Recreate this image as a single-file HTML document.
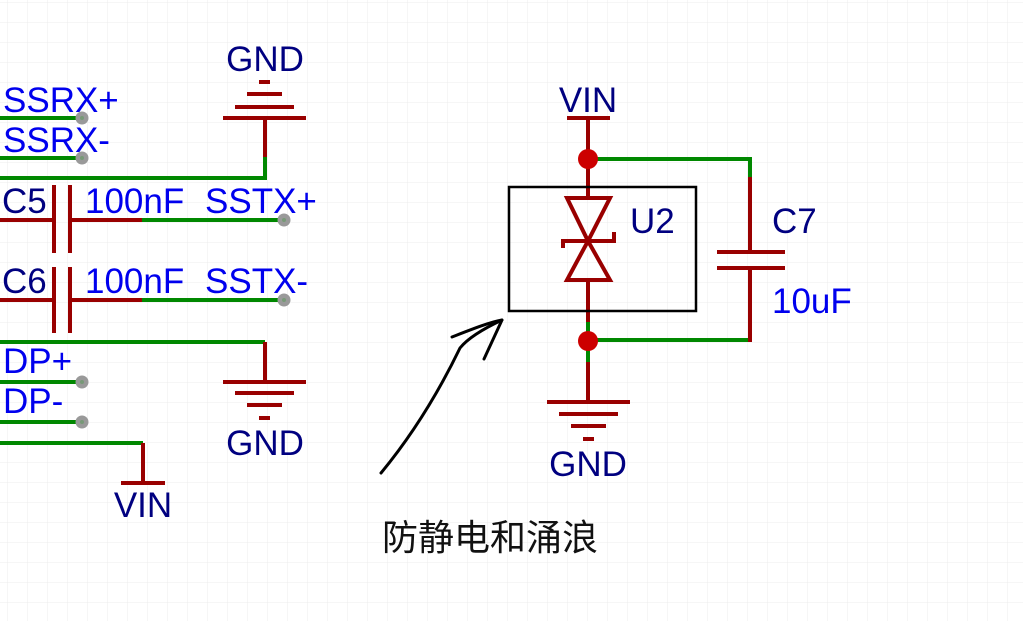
<!DOCTYPE html>
<html><head><meta charset="utf-8"><style>
html,body{margin:0;padding:0;background:#fff;}
svg{display:block;}
text{font-family:"Liberation Sans","Noto Sans CJK SC",sans-serif;}
</style></head><body>
<svg width="1023" height="621" viewBox="0 0 1023 621" xmlns="http://www.w3.org/2000/svg">
<defs>
<pattern id="g" x="7" y="2" width="20" height="20" patternUnits="userSpaceOnUse">
<path d="M0 0H20M0 0V20" stroke="#ececec" stroke-width="1" fill="none"/>
</pattern>
</defs>
<rect width="1023" height="621" fill="#fff"/>
<rect width="1023" height="621" fill="url(#g)"/>
<g fill="none" stroke-linecap="butt">
<g stroke="#990000" stroke-width="4">
<line x1="259" y1="82" x2="270" y2="82"/>
<line x1="247" y1="94" x2="282" y2="94"/>
<line x1="235" y1="107" x2="294" y2="107"/>
<line x1="223" y1="118" x2="306" y2="118"/>
<line x1="265" y1="118" x2="265" y2="158"/>
</g>
<g stroke="#008800" stroke-width="4">
<polyline points="265,157 265,178 0,178"/>
<line x1="0" y1="118" x2="82" y2="118"/>
<line x1="0" y1="158" x2="82" y2="158"/>
<line x1="142" y1="220" x2="284" y2="220"/>
<line x1="142" y1="300" x2="284" y2="300"/>
<line x1="0" y1="342" x2="265" y2="342"/>
<line x1="0" y1="382" x2="82" y2="382"/>
<line x1="0" y1="422" x2="82" y2="422"/>
<line x1="0" y1="443" x2="143" y2="443"/>
</g>
<g stroke="#990000" stroke-width="4">
<line x1="0" y1="220" x2="54" y2="220"/>
<line x1="70" y1="220" x2="142" y2="220"/>
<line x1="54" y1="185" x2="54" y2="253"/>
<line x1="70" y1="185" x2="70" y2="253"/>
<line x1="0" y1="300" x2="54" y2="300"/>
<line x1="70" y1="300" x2="142" y2="300"/>
<line x1="54" y1="267" x2="54" y2="333"/>
<line x1="70" y1="267" x2="70" y2="333"/>
<line x1="265" y1="342" x2="265" y2="382"/>
<line x1="223" y1="382" x2="306" y2="382"/>
<line x1="235" y1="393" x2="294" y2="393"/>
<line x1="247" y1="405" x2="282" y2="405"/>
<line x1="259" y1="418" x2="270" y2="418"/>
<line x1="143" y1="443" x2="143" y2="483"/>
<line x1="121" y1="483" x2="165" y2="483"/>
</g>
<g fill="#999" stroke="none">
<circle cx="82" cy="118" r="6.5"/><circle cx="82" cy="158" r="6.5"/>
<circle cx="284" cy="220" r="6.5"/><circle cx="284" cy="300" r="6.5"/>
<circle cx="82" cy="382" r="6.5"/><circle cx="82" cy="422" r="6.5"/>
</g>
<g fill="#779977" stroke="none">
<circle cx="82" cy="118" r="2"/><circle cx="82" cy="158" r="2"/>
<circle cx="284" cy="220" r="2"/><circle cx="284" cy="300" r="2"/>
<circle cx="82" cy="382" r="2"/><circle cx="82" cy="422" r="2"/>
</g>
<g stroke="#008800" stroke-width="4">
<polyline points="588,159 750,159 750,178"/>
<polyline points="750,340 588,340"/>
<line x1="588" y1="322" x2="588" y2="362"/>
</g>
<g stroke="#990000" stroke-width="4">
<line x1="567" y1="118" x2="610" y2="118"/>
<line x1="588" y1="118" x2="588" y2="198"/>
<line x1="588" y1="280" x2="588" y2="322"/>
<line x1="750" y1="177" x2="750" y2="252"/>
<line x1="717" y1="252" x2="785" y2="252"/>
<line x1="717" y1="268" x2="785" y2="268"/>
<line x1="750" y1="268" x2="750" y2="342"/>
<line x1="588" y1="362" x2="588" y2="402"/>
<line x1="547" y1="402" x2="630" y2="402"/>
<line x1="559" y1="414" x2="618" y2="414"/>
<line x1="571" y1="426" x2="606" y2="426"/>
<line x1="583" y1="439" x2="594" y2="439"/>
<polygon points="567,198 610,198 588,241"/>
<polygon points="567,280 610,280 588,241"/>
<polyline points="563,248 563,241 614,241 614,232"/>
</g>
<rect x="509" y="187" width="187" height="124" stroke="#000" stroke-width="2.5"/>
<g fill="#cc0000" stroke="none">
<circle cx="588" cy="159" r="10"/><circle cx="588" cy="341" r="10"/>
</g>
<g stroke="#000" stroke-width="3" stroke-linecap="round" stroke-linejoin="round">
<path d="M381,473 C400,450 430,410 460,348 C468,338 485,328 502,320"/>
<path d="M452,337 C470,330 490,322 502,320 L484,359"/>
</g>
</g>
<g font-size="35">
<text x="265" y="71" fill="#000080" text-anchor="middle">GND</text>
<text x="3" y="112" fill="#0000ee">SSRX+</text>
<text x="3" y="152" fill="#0000ee">SSRX-</text>
<text x="2" y="213" fill="#000080">C5</text>
<text x="85" y="213" fill="#0000ee">100nF</text>
<text x="205" y="213" fill="#0000ee">SSTX+</text>
<text x="2" y="293" fill="#000080">C6</text>
<text x="85" y="293" fill="#0000ee">100nF</text>
<text x="205" y="293" fill="#0000ee">SSTX-</text>
<text x="3" y="373" fill="#0000ee">DP+</text>
<text x="3" y="413" fill="#0000ee">DP-</text>
<text x="265" y="455" fill="#000080" text-anchor="middle">GND</text>
<text x="143" y="517" fill="#000080" text-anchor="middle">VIN</text>
<text x="588" y="112" fill="#000080" text-anchor="middle">VIN</text>
<text x="630" y="233" fill="#000080">U2</text>
<text x="772" y="233" fill="#000080">C7</text>
<text x="772" y="313" fill="#0000ee">10uF</text>
<text x="588" y="476" fill="#000080" text-anchor="middle">GND</text>
<text x="382" y="550" fill="#111" font-size="36">防静电和涌浪</text>
</g>
</svg>
</body></html>
